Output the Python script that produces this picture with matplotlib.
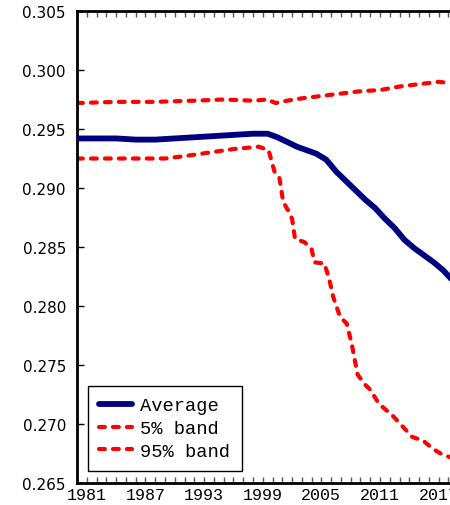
import numpy as np
import matplotlib
matplotlib.use("Agg")
import matplotlib.pyplot as plt
from matplotlib.ticker import MultipleLocator, FixedLocator, FormatStrFormatter

# average path
anios_prom = [1980, 1982, 1984, 1986, 1988, 1990, 1992, 1994, 1996, 1998, 1999.5,
              2000.5, 2001.5, 2002.5, 2003.5, 2004.5, 2005.5, 2006.5, 2007.5, 2008.5,
              2009.5, 2010.5, 2011.5, 2012.5, 2013.5, 2014.5, 2015.5, 2016.5, 2017.5,
              2018.5, 2019.5]
promedio = [0.2942, 0.2942, 0.2942, 0.2941, 0.2941, 0.2942, 0.2943, 0.2944, 0.2945,
            0.2946, 0.2946, 0.2943, 0.2939, 0.2935, 0.2932, 0.2929, 0.2924, 0.2914,
            0.2906, 0.2898, 0.2890, 0.2883, 0.2874, 0.2866, 0.2856, 0.2849, 0.2843,
            0.2837, 0.2830, 0.2821, 0.2814]

# upper band (95%)
anios_sup = [1980, 1984, 1988, 1992, 1995, 1998, 1999.5, 2000.3, 2001.5, 2003, 2005,
             2007, 2009, 2011, 2013, 2015, 2017, 2018, 2019, 2020]
banda_95 = [0.2972, 0.2973, 0.2973, 0.2974, 0.2975, 0.2974, 0.2975, 0.2972, 0.2974,
            0.2976, 0.2978, 0.2980, 0.2982, 0.2983, 0.2986, 0.2988, 0.2990, 0.2989,
            0.2990, 0.2991]

# lower band (5%)
anios_inf = [1980, 1984, 1989, 1991, 1993.5, 1996, 1998.6, 1999.6, 2000.2, 2000.7,
             2001.1, 2001.6, 2002.0, 2002.3, 2003.3, 2004.0, 2004.3, 2005.3, 2005.8,
             2006.2, 2006.9, 2007.6, 2008.1, 2008.7, 2009.4, 2010.0, 2010.9, 2012.3,
             2013.3, 2014.3, 2015.4, 2016.4, 2017.4, 2018.5, 2020]
banda_5 = [0.2925, 0.2925, 0.2925, 0.2927, 0.2930, 0.2933, 0.2935, 0.2932, 0.2914,
           0.2909, 0.2888, 0.2881, 0.2874, 0.2857, 0.2854, 0.2848, 0.2837, 0.2836,
           0.2823, 0.2808, 0.2791, 0.2785, 0.2768, 0.2742, 0.2734, 0.2729, 0.2717,
           0.2707, 0.2698, 0.2689, 0.2686, 0.2679, 0.2674, 0.2671, 0.2669]

etiquetas_x = [1981, 1987, 1993, 1999, 2005, 2011, 2017]

fig = plt.figure(figsize=(4.5, 5.06), dpi=100)
ax = fig.add_axes([77 / 450, 22 / 506, 391 / 450, 472 / 506])

rojo = '#ff0000'
azul = '#000080'
ax.plot(anios_prom, promedio, color=azul, lw=4.2, solid_capstyle='round',
        label='Average', zorder=3)
ax.plot(anios_inf, banda_5, color=rojo, lw=3, dashes=(1.4, 1.95),
        dash_capstyle='round', label='5% band')
ax.plot(anios_sup, banda_95, color=rojo, lw=3, dashes=(1.4, 1.95),
        dash_capstyle='round', label='95% band')

ax.set_xlim(1980, 2020)
ax.set_ylim(0.265, 0.305)
ax.xaxis.set_major_locator(FixedLocator(etiquetas_x))
ax.xaxis.set_minor_locator(MultipleLocator(1))
ax.yaxis.set_major_locator(MultipleLocator(0.005))
ax.yaxis.set_major_formatter(FormatStrFormatter('%.3f'))

ax.tick_params(axis='x', which='both', direction='in', top=True, length=4,
               width=1, color='#555555', pad=3)
ax.tick_params(axis='y', which='both', direction='in', length=5, width=1, pad=8)
for lab in ax.get_xticklabels():
    lab.set_fontfamily('Liberation Mono')
    lab.set_fontsize(12)
for lab in ax.get_yticklabels():
    lab.set_fontfamily('DejaVu Sans')
    lab.set_fontsize(11)

for lado in ['left', 'bottom', 'top']:
    ax.spines[lado].set_linewidth(2)
ax.spines['right'].set_visible(False)

leg = ax.legend(loc='lower left', bbox_to_anchor=(0.028, 0.025), borderaxespad=0,
                prop={'family': 'Liberation Mono', 'size': 13.5}, fancybox=False,
                framealpha=1, edgecolor='black', handlelength=1.75,
                handletextpad=0.45, labelspacing=0.3, borderpad=0.6)
leg.get_frame().set_linewidth(1)

plt.savefig('out.png', dpi=100)
